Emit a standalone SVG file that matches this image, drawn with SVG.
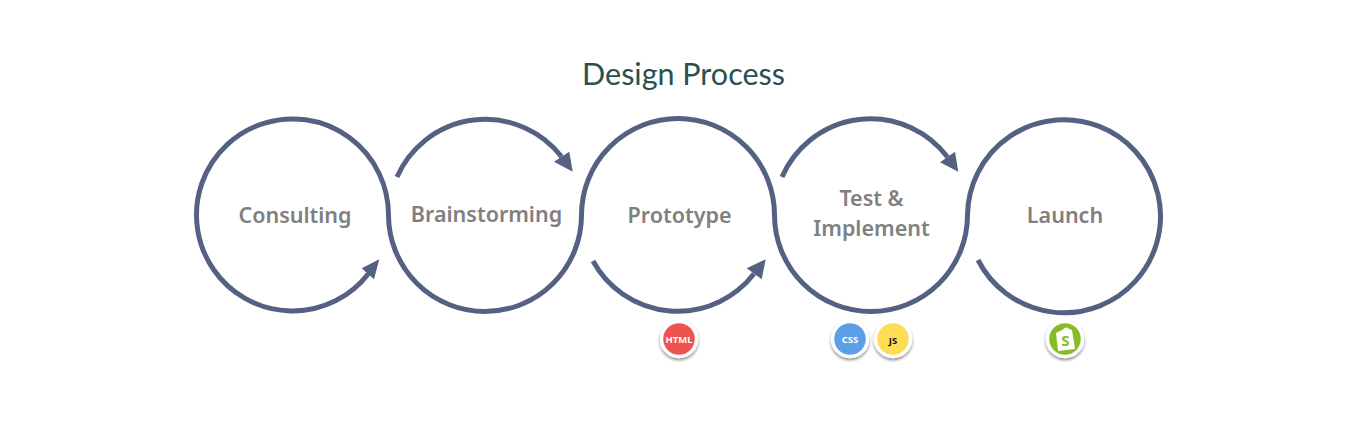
<svg xmlns="http://www.w3.org/2000/svg" width="1357" height="430" viewBox="0 0 1357 430">
<style>
.l{fill:none;stroke:#546183;stroke-width:5}
.h{fill:#546183}
.t{font-family:"Noto Sans","Open Sans",sans-serif;font-weight:600;font-size:21.500px;fill:#808080;text-anchor:middle}
.b{stroke:#fff;stroke-width:3.500;filter:url(#s)}
.i{font-family:"Open Sans","Noto Sans",sans-serif;font-weight:700;font-size:9.500px;text-anchor:middle}
</style>
<defs><filter id="s" x="-30%" y="-30%" width="160%" height="170%"><feDropShadow dx="0" dy="2" stdDeviation="1.6" flood-color="#000" flood-opacity=".45"/></filter></defs>
<rect width="1357" height="430" fill="#fff"/>
<text x="683.500" y="84.500" font-family="Lato,sans-serif" font-size="30.500" fill="#2a504f" text-anchor="middle">Design Process</text>
<g id="connectors">
<path class="l" d="M368.400 273.700A96 96 0 1 1 388.500 215A96.500 96.500 0 0 0 581.500 215A96.500 96.500 0 0 1 774.500 215A96.500 96.500 0 0 0 967.500 215A96.500 96.500 0 1 1 978 260"/>
<path class="l" d="M397 177A96.500 96.500 0 0 1 561.600 156.700"/>
<path class="l" d="M593 261A96.500 96.500 0 0 0 754 273.800"/>
<path class="l" d="M782 177A96.500 96.500 0 0 1 947.500 157"/>
<polygon class="h" points="379.300,259.300 361.700,268.300 374,279.300"/>
<polygon class="h" points="572.700,171.700 554,161.700 569.300,151.700"/>
<polygon class="h" points="765.700,259.300 746.700,268.300 761.700,279.300"/>
<polygon class="h" points="958.300,171.700 940,162.300 955,151.700"/>
</g>
<g id="consulting"><text class="t" x="295" y="222.500">Consulting</text></g>
<g id="brainstorming"><text class="t" x="486.500" y="221.500">Brainstorming</text></g>
<g id="prototype"><text class="t" x="679.500" y="222.500">Prototype</text></g>
<g id="test"><text class="t" x="871.500" y="205.500">Test &amp;</text><text class="t" x="871.500" y="236">Implement</text></g>
<g id="launch"><text class="t" x="1065" y="222.500">Launch</text></g>
<g id="html"><circle class="b" cx="679" cy="339" r="17.500" fill="#ef5350"/><text class="i" x="679" y="342.500" fill="#fff">HTML</text></g>
<g id="css"><circle class="b" cx="850" cy="339" r="17.500" fill="#5b9fe6"/><text class="i" x="850" y="342.500" fill="#fff">CSS</text></g>
<g id="js"><circle class="b" cx="893" cy="339" r="17.500" fill="#fddc57"/><text class="i" x="893" y="343.500" fill="#111" font-size="12">JS</text></g>
<g id="shopify"><circle class="b" cx="1065" cy="339" r="17.500" fill="#86bc25"/><path d="M1056 333L1063 329.500Q1066 326 1069 329L1072 330L1075 349L1058 351Z" fill="#fff"/><text x="1065.500" y="346" font-family="Open Sans,sans-serif" font-weight="700" font-size="15" fill="#86bc25" text-anchor="middle">S</text></g>
</svg>
